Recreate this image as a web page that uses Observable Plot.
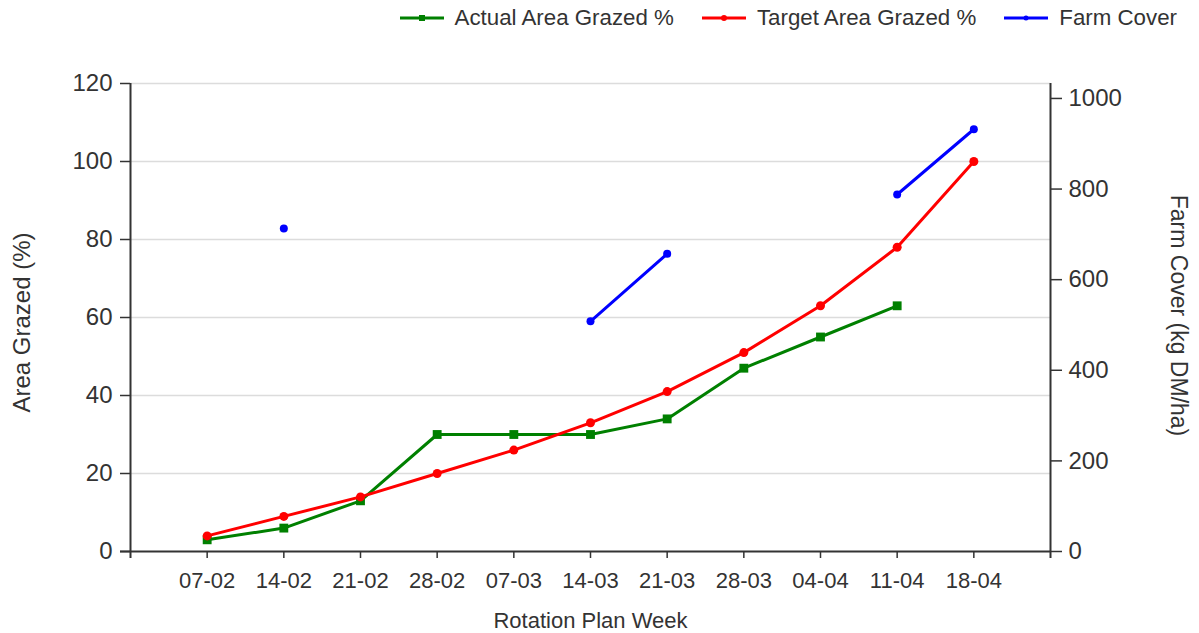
<!DOCTYPE html>
<html><head><meta charset="utf-8">
<script src="https://cdn.jsdelivr.net/npm/d3@7"></script>
<script src="https://cdn.jsdelivr.net/npm/@observablehq/plot@0.6"></script>
<style>
body{margin:0;background:#fff;font-family:"Liberation Sans",Arial,sans-serif;color:#333;}
#legend{height:35px;display:flex;justify-content:flex-end;align-items:center;padding-right:22px;font-size:22.3px;box-sizing:border-box;}
.item{display:flex;align-items:center;margin-left:28px;white-space:nowrap}
.item svg{margin-right:11px;display:block}
#chart svg{display:block;font-family:"Liberation Sans",Arial,sans-serif;color:#333}
</style></head><body>
<div id="legend"></div>
<div id="chart"></div>
<script>
const weeks = ["07-02","14-02","21-02","28-02","07-03","14-03","21-03","28-03","04-04","11-04","18-04"];
const actual = [3,6,13,30,30,30,34,47,55,63,null];
const target = [4,9,14,20,26,33,41,51,63,78,100];
const cover = [null,713,null,null,null,508,657,null,null,788,932];
const leftTicks = [0,20,40,60,80,100,120];
const rightTicks = [0,200,400,600,800,1000];
const coverMax = 1033;
const seriesNames = ["Actual Area Grazed %","Target Area Grazed %","Farm Cover"];
const colors = ["#008000","#ff0000","#0000ff"];

const k = 120 / coverMax;
const rows = weeks.map((w,i)=>({i:i+1, week:w, actual:actual[i], target:target[i], cover: cover[i]==null?null:cover[i]*k}));

// legend
const legend = document.getElementById("legend");
seriesNames.forEach((name,j)=>{
  const it = document.createElement("div"); it.className="item";
  const s = d3.create("svg").attr("width",44).attr("height",12);
  s.append("line").attr("x1",0).attr("x2",44).attr("y1",6).attr("y2",6).attr("stroke",colors[j]).attr("stroke-width",3);
  if (j===0) s.append("rect").attr("x",19).attr("y",3).attr("width",6).attr("height",6).attr("fill",colors[j]);
  else s.append("circle").attr("cx",22).attr("cy",6).attr("r",j===1?3:2.5).attr("fill",colors[j]);
  it.appendChild(s.node());
  const t = document.createElement("span"); t.textContent=name; it.appendChild(t);
  legend.appendChild(it);
});

const chart = Plot.plot({
  width: 1199, height: 598,
  marginTop: 48, marginBottom: 82, marginLeft: 130, marginRight: 149,
  x: {domain:[0,12]},
  y: {domain:[0,120]},
  marks: [
    Plot.gridY(leftTicks.filter(d=>d>0), {stroke:"#dcdcdc", strokeOpacity:1, strokeWidth:1.5}),
    Plot.ruleY([0], {stroke:"#333", strokeWidth:2, insetLeft:-10}),
    Plot.ruleX([0], {stroke:"#333", strokeWidth:2, insetBottom:-7}),
    Plot.ruleX([12], {stroke:"#333", strokeWidth:2, insetBottom:-7}),
    Plot.axisX(d3.range(1,12), {tickFormat: i=>weeks[i-1], tickSize:7, tickPadding:14, fontSize:22, label:null, stroke:"#333", strokeWidth:1.5}),
    Plot.axisY(leftTicks, {tickSize:10, tickPadding:8, fontSize:24, label:null, stroke:"#333", strokeWidth:1.5}),
    Plot.axisY(rightTicks.map(v=>v*k), {anchor:"right", tickFormat: v=>String(Math.round(v/k)), tickSize:11, tickPadding:7, fontSize:24, label:null, stroke:"#333", strokeWidth:1.5}),
    Plot.text(["Area Grazed (%)"], {text:d=>d, frameAnchor:"left", textAnchor:"middle", lineAnchor:"middle", dx:-108, dy:5, rotate:-90, fontSize:24, fill:"#333"}),
    Plot.text(["Farm Cover (kg DM/ha)"], {text:d=>d, frameAnchor:"right", textAnchor:"middle", lineAnchor:"middle", dx:128, dy:-2, rotate:90, fontSize:23, fill:"#333"}),
    Plot.text(["Rotation Plan Week"], {text:d=>d, frameAnchor:"bottom", lineAnchor:"middle", dy:69, fontSize:22, fill:"#333"}),
    Plot.line(rows, {x:"i", y:"actual", stroke:colors[0], strokeWidth:3}),
    Plot.dot(rows, {x:"i", y:"actual", symbol:"square", r:5, fill:colors[0]}),
    Plot.line(rows, {x:"i", y:"target", stroke:colors[1], strokeWidth:3}),
    Plot.dot(rows, {x:"i", y:"target", r:4.5, fill:colors[1]}),
    Plot.line(rows, {x:"i", y:"cover", stroke:colors[2], strokeWidth:3}),
    Plot.dot(rows, {x:"i", y:"cover", r:4, fill:colors[2]})
  ]
});
document.getElementById("chart").appendChild(chart);
</script>
</body></html>
